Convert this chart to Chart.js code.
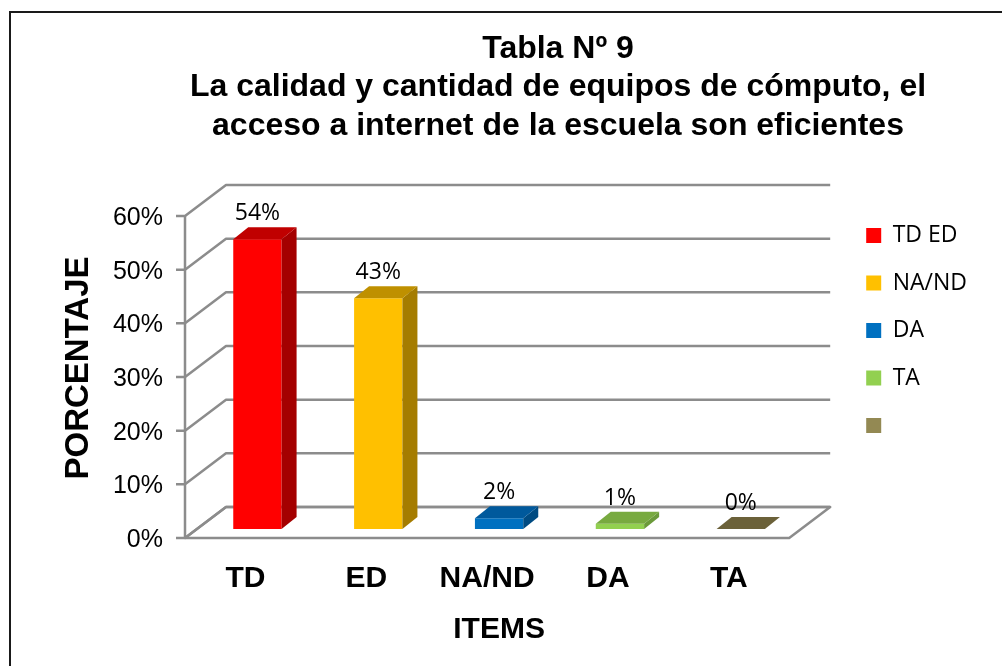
<!DOCTYPE html>
<html>
<head>
<meta charset="utf-8">
<script src="https://cdn.jsdelivr.net/npm/chart.js@4.4.1/dist/chart.umd.min.js"></script>
<style>
    html, body { margin: 0; padding: 0; background: #fff; }
    canvas { display: block; }
</style>
</head>
<body>
<canvas id="chart" width="1002" height="666"></canvas>
<script>
// ── Datos ──
const categories = ['TD', 'ED', 'NA/ND', 'DA', 'TA'];
const percentages = [54, 43, 2, 1, 0];
const yTickValues = [0, 10, 20, 30, 40, 50, 60];
const legendLabels = ['TD ED', 'NA/ND', 'DA', 'TA', ''];
const titleLines = [
    'Tabla Nº 9',
    'La calidad y cantidad de equipos de cómputo, el',
    'acceso a internet de la escuela son eficientes'
];

// ── Colores ──
const frontColors = ['#ff0000', '#ffc000', '#0070c0', '#92d050', '#938953'];
const sideColors = ['#a40000', '#a57c00', '#004b82', '#6b9a3a', '#5d5632'];
const topColors = ['#c00000', '#bf9000', '#00599c', '#78aa40', '#6b6139'];

// desplazamientos del "3D" respecto al plano de las barras
const FRONT = { dx: -12, dy: 9 };
const BACK = { dx: 29, dy: -22 };
const DEPTH = { dx: 15, dy: -12 };
const GRID = '#8c8c8c';

const frame3d = {
    id: 'frame3d',
    afterLayout(chart) {
        // centrar el título sobre el área del gráfico como en el original
        const t = chart.titleBlock;
        if (t) { t.left = 558 - 450; t.right = 558 + 450; }
    },
    beforeDraw(chart) {
        const ctx = chart.ctx;
        ctx.save();
        ctx.fillStyle = '#fff';
        ctx.fillRect(0, 0, chart.width, chart.height);
        ctx.strokeStyle = '#1a1a1a';
        ctx.lineWidth = 2;
        ctx.strokeRect(10, 12, chart.width, chart.height);
        ctx.restore();
    },
    beforeDatasetsDraw(chart) {
        const { ctx, chartArea: a, scales: { y } } = chart;
        const y0 = y.getPixelForValue(y.min);
        const yTop = y.getPixelForValue(y.max);
        ctx.save();
        ctx.strokeStyle = GRID;
        ctx.lineWidth = 2.5;
        ctx.lineJoin = 'round';

        // piso
        ctx.beginPath();
        ctx.moveTo(a.left + FRONT.dx, y0 + FRONT.dy);
        ctx.lineTo(a.right + FRONT.dx, y0 + FRONT.dy);
        ctx.lineTo(a.right + BACK.dx, y0 + BACK.dy);
        ctx.lineTo(a.left + BACK.dx, y0 + BACK.dy);
        ctx.closePath();
        ctx.stroke();

        // marcas, pared izquierda y líneas de cuadrícula del fondo
        y.ticks.forEach(t => {
            const py = y.getPixelForValue(t.value);
            ctx.beginPath();
            ctx.moveTo(a.left + FRONT.dx - 9, py + FRONT.dy);
            ctx.lineTo(a.left + FRONT.dx, py + FRONT.dy);
            ctx.lineTo(a.left + BACK.dx, py + BACK.dy);
            ctx.lineTo(a.right + BACK.dx, py + BACK.dy);
            ctx.stroke();
        });

        // eje vertical frontal
        ctx.beginPath();
        ctx.moveTo(a.left + FRONT.dx, yTop + FRONT.dy);
        ctx.lineTo(a.left + FRONT.dx, y0 + FRONT.dy);
        ctx.stroke();
        ctx.restore();
    },
    afterDatasetsDraw(chart) {
        const ctx = chart.ctx;
        const meta = chart.getDatasetMeta(0);
        ctx.save();
        meta.data.forEach((bar, i) => {
            const { x, y, base, width } = bar.getProps(['x', 'y', 'base', 'width'], true);
            const l = x - width / 2, r = x + width / 2;

            // cara lateral
            ctx.fillStyle = sideColors[i];
            ctx.beginPath();
            ctx.moveTo(r, y);
            ctx.lineTo(r + DEPTH.dx, y + DEPTH.dy);
            ctx.lineTo(r + DEPTH.dx, base + DEPTH.dy);
            ctx.lineTo(r, base);
            ctx.closePath();
            ctx.fill();

            // cara superior
            ctx.fillStyle = topColors[i];
            ctx.beginPath();
            ctx.moveTo(l, y);
            ctx.lineTo(l + DEPTH.dx, y + DEPTH.dy);
            ctx.lineTo(r + DEPTH.dx, y + DEPTH.dy);
            ctx.lineTo(r, y);
            ctx.closePath();
            ctx.fill();

            // etiqueta de valor
            ctx.fillStyle = '#000';
            ctx.font = '23px "Open Sans"';
            ctx.textAlign = 'center';
            ctx.textBaseline = 'alphabetic';
            ctx.fillText(percentages[i] + '%', x, y + DEPTH.dy - 7);
        });
        ctx.restore();
    }
};

const ctx = document.getElementById('chart').getContext('2d');
new Chart(ctx, {
    type: 'bar',
    data: {
        labels: categories,
        datasets: [{
            data: percentages,
            backgroundColor: frontColors,
            borderWidth: 0,
            categoryPercentage: 1,
            barPercentage: 0.4
        }]
    },
    options: {
        responsive: false,
        animation: false,
        layout: { padding: { left: 0, right: 25, top: 0, bottom: 5 } },
        plugins: {
            tooltip: { enabled: false },
            title: {
                display: true,
                text: titleLines,
                color: '#000',
                font: { family: 'Liberation Sans', size: 32, weight: 'bold', lineHeight: 1.2 },
                padding: { top: 29.8, bottom: 62 }
            },
            legend: {
                position: 'right',
                align: 'center',
                fullSize: true,
                labels: {
                    boxWidth: 15,
                    boxHeight: 15,
                    padding: 24.5,
                    color: '#000',
                    font: { family: 'Open Sans', size: 23 },
                    generateLabels: () => legendLabels.map((text, i) => ({
                        text,
                        fillStyle: frontColors[i],
                        strokeStyle: frontColors[i],
                        lineWidth: 0,
                        hidden: false,
                        index: i
                    }))
                }
            }
        },
        scales: {
            x: {
                grid: { display: false },
                border: { display: false },
                ticks: {
                    color: '#000',
                    padding: 24,
                    labelOffset: -12,
                    font: { family: 'Liberation Sans', size: 30, weight: 'bold' }
                },
                title: {
                    display: true,
                    text: 'ITEMS',
                    color: '#000',
                    padding: { top: 0, bottom: 13 },
                    font: { family: 'Liberation Sans', size: 30, weight: 'bold' }
                },
                afterFit(scale) { scale.height = 132; }
            },
            y: {
                min: 0,
                max: 60,
                grid: { display: false },
                border: { display: false },
                afterBuildTicks(scale) { scale.ticks = yTickValues.map(v => ({ value: v })); },
                ticks: {
                    color: '#000',
                    padding: 26,
                    labelOffset: 11,
                    font: { family: 'Liberation Sans', size: 25 },
                    callback: v => v + '%'
                },
                title: {
                    display: true,
                    text: 'PORCENTAJE',
                    color: '#000',
                    padding: { top: 59, bottom: 0 },
                    font: { family: 'Liberation Sans', size: 33, weight: 'bold' }
                },
                afterFit(scale) { scale.width = 197; }
            },
            gap: {
                type: 'linear',
                position: 'right',
                display: true,
                grid: { display: false },
                border: { display: false },
                ticks: { display: false },
                afterFit(scale) { scale.width = 40.5; }
            }
        }
    },
    plugins: [frame3d]
});
</script>
</body>
</html>
